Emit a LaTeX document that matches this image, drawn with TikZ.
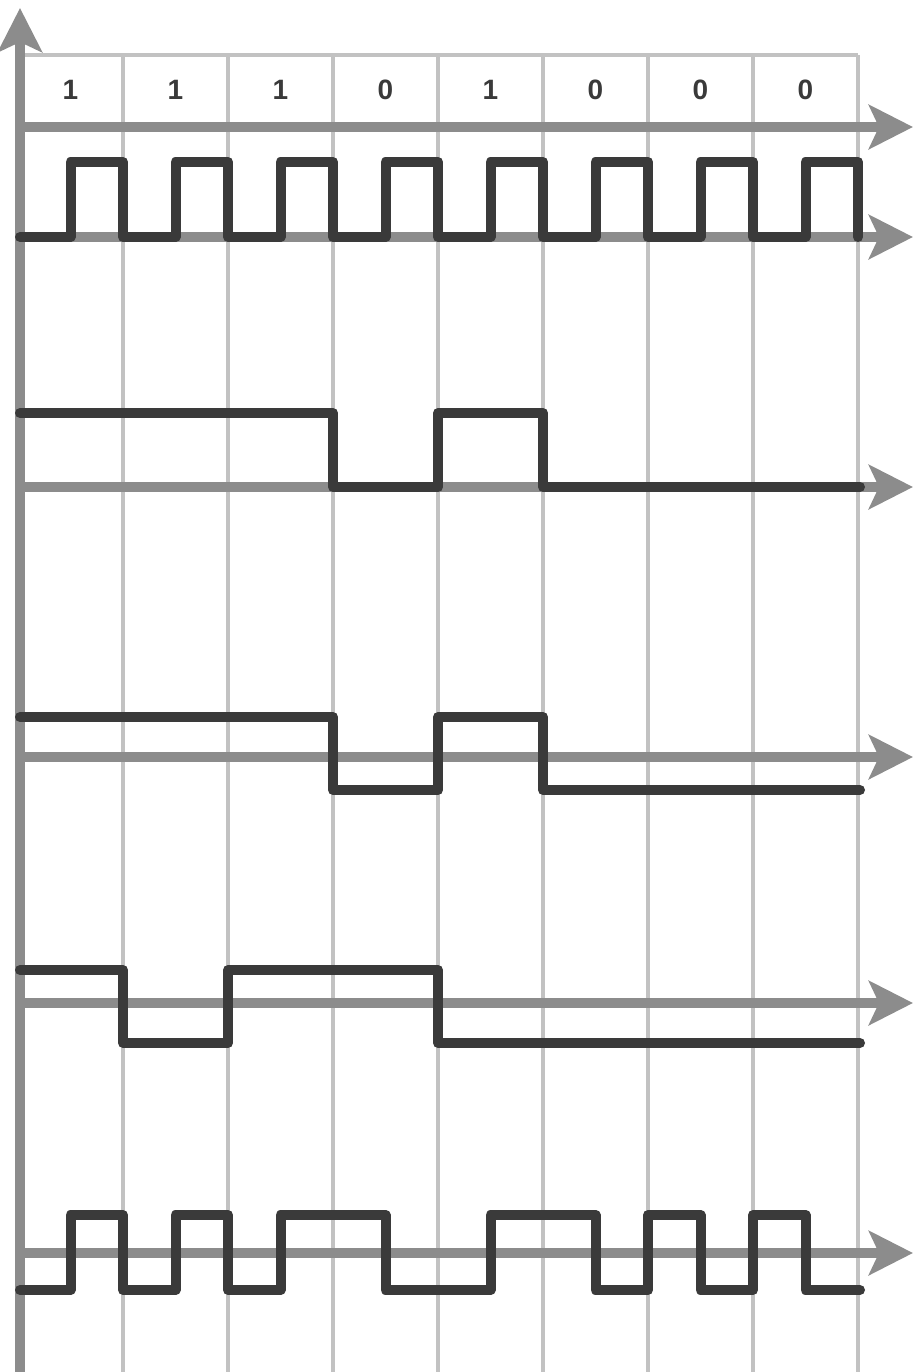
\documentclass[tikz,border=0pt]{standalone}
\usepackage{fontspec}
\setmainfont{Liberation Sans}
\usepackage{xcolor}
\usetikzlibrary{arrows.meta}
\definecolor{axisgray}{HTML}{8C8C8C}
\definecolor{gridgray}{HTML}{C2C2C2}
\definecolor{wave}{HTML}{3A3A3A}

\begin{document}
\begin{tikzpicture}[x=0.5pt,y=-0.5pt,>={Stealth[length=22pt,width=22pt,inset=5pt]}, every node/.style={font=\fontsize{14}{16}\selectfont\bfseries}]
\tikzstyle{grid}=[draw=gridgray, line width=2pt]
\tikzstyle{axis}=[draw=axisgray, line width=5pt, ->]
\tikzstyle{signal}=[draw=wave, line width=5pt, line cap=round, line join=round]
\tikzstyle{bit}=[text=wave, inner sep=0pt]
\useasboundingbox (0,0) rectangle (920,1372);
\fill[white] (0,0) rectangle (920,1372);
% grid and bit row
\foreach \k in {1,...,8}
  \draw[grid] (18+105*\k,55) -- (18+105*\k,1372);
\draw[grid] (20,55) -- (858,55);
\foreach \b [count=\i from 0] in {1,1,1,0,1,0,0,0}
  \node[bit] (b\i) at (70.5+105*\i,90) {\b};
% axes
\coordinate (o) at (20,1372);
\coordinate (top) at (20,8);
\draw[axis] (o) -- (top);
\foreach \y [count=\i] in {127,237,487,757,1003,1253} {
  \coordinate (s\i) at (20,\y);
  \coordinate (e\i) at (913,\y);
  \draw[axis] (s\i) -- (e\i);
}
% clock
\draw[signal] (20,237) \foreach \k in {0,...,7} {
  -- (70.5+105*\k,237) -- (70.5+105*\k,162) -- (123+105*\k,162) -- (123+105*\k,237)};
% NRZ unipolar
\draw[signal] (20,413) -- (333,413) -- (333,487) -- (438,487) -- (438,413)
  -- (543,413) -- (543,487) -- (860,487);
% NRZ bipolar
\draw[signal] (20,717) -- (333,717) -- (333,790) -- (438,790) -- (438,717)
  -- (543,717) -- (543,790) -- (860,790);
% NRZI
\draw[signal] (20,970) -- (123,970) -- (123,1043) -- (228,1043) -- (228,970)
  -- (438,970) -- (438,1043) -- (860,1043);
% Manchester
\draw[signal] (20,1290) -- (70.5,1290) -- (70.5,1215) -- (123,1215) -- (123,1290)
  -- (175.5,1290) -- (175.5,1215) -- (228,1215) -- (228,1290) -- (280.5,1290)
  -- (280.5,1215) -- (385.5,1215) -- (385.5,1290) -- (490.5,1290) -- (490.5,1215)
  -- (595.5,1215) -- (595.5,1290) -- (648,1290) -- (648,1215) -- (700.5,1215)
  -- (700.5,1290) -- (753,1290) -- (753,1215) -- (805.5,1215) -- (805.5,1290)
  -- (860,1290);
\end{tikzpicture}
\end{document}
